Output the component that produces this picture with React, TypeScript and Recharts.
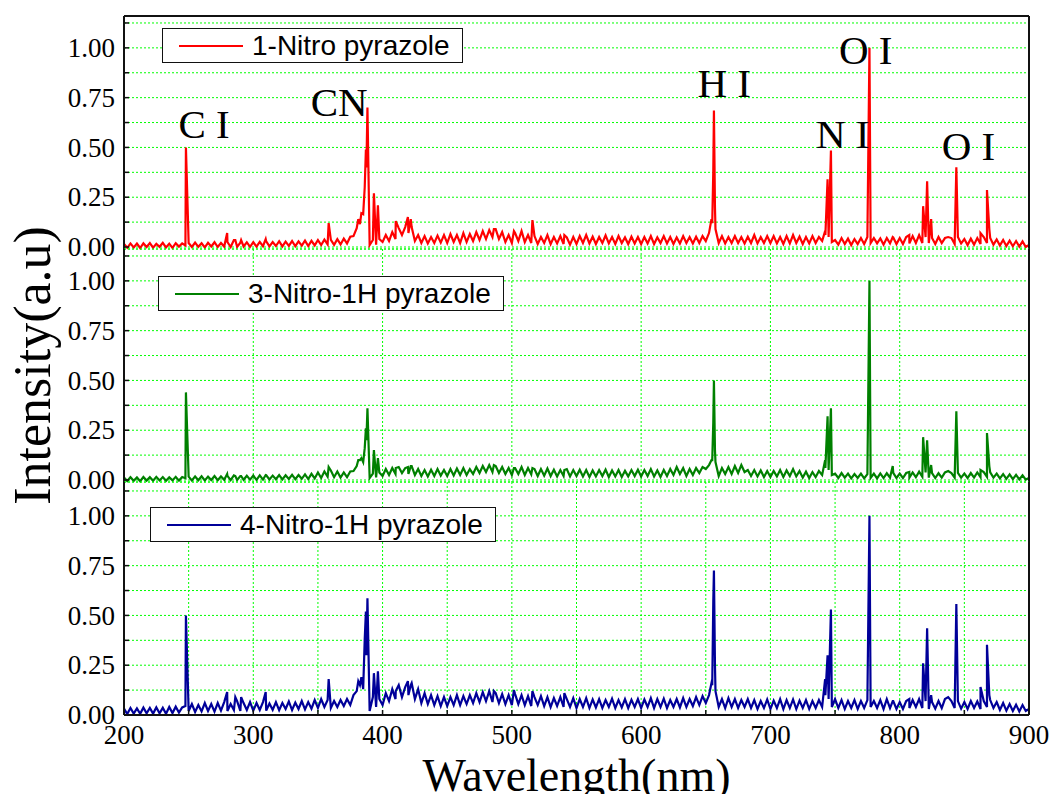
import React from 'react';
import { LineChart, Line, XAxis, YAxis, CartesianGrid, ReferenceDot, Legend } from 'recharts';

// Baseline sampling grid (nm)
const wavelengths = [
  200, 202.5, 205, 207.5, 210, 212.5, 215, 217.5, 220, 222.5, 225, 227.5, 230, 232.5, 235, 237.5, 240, 242.5, 245, 247.5,
  250, 252.5, 255, 257.5, 260, 262.5, 265, 267.5, 270, 272.5, 275, 277.5, 280, 282.5, 285, 287.5, 290, 292.5, 295, 297.5,
  300, 302.5, 305, 307.5, 310, 312.5, 315, 317.5, 320, 322.5, 325, 327.5, 330, 332.5, 335, 337.5, 340, 342.5, 345, 347.5,
  350, 352.5, 355, 357.5, 360, 362.5, 365, 367.5, 370, 372.5, 375, 377.5, 380, 382.5, 385, 387.5, 390, 392.5, 395, 397.5,
  400, 402.5, 405, 407.5, 410, 412.5, 415, 417.5, 420, 422.5, 425, 427.5, 430, 432.5, 435, 437.5, 440, 442.5, 445, 447.5,
  450, 452.5, 455, 457.5, 460, 462.5, 465, 467.5, 470, 472.5, 475, 477.5, 480, 482.5, 485, 487.5, 490, 492.5, 495, 497.5,
  500, 502.5, 505, 507.5, 510, 512.5, 515, 517.5, 520, 522.5, 525, 527.5, 530, 532.5, 535, 537.5, 540, 542.5, 545, 547.5,
  550, 552.5, 555, 557.5, 560, 562.5, 565, 567.5, 570, 572.5, 575, 577.5, 580, 582.5, 585, 587.5, 590, 592.5, 595, 597.5,
  600, 602.5, 605, 607.5, 610, 612.5, 615, 617.5, 620, 622.5, 625, 627.5, 630, 632.5, 635, 637.5, 640, 642.5, 645, 647.5,
  650, 652.5, 655, 657.5, 660, 662.5, 665, 667.5, 670, 672.5, 675, 677.5, 680, 682.5, 685, 687.5, 690, 692.5, 695, 697.5,
  700, 702.5, 705, 707.5, 710, 712.5, 715, 717.5, 720, 722.5, 725, 727.5, 730, 732.5, 735, 737.5, 740, 742.5, 745, 747.5,
  750, 752.5, 755, 757.5, 760, 762.5, 765, 767.5, 770, 772.5, 775, 777.5, 780, 782.5, 785, 787.5, 790, 792.5, 795, 797.5,
  800, 802.5, 805, 807.5, 810, 812.5, 815, 817.5, 820, 822.5, 825, 827.5, 830, 832.5, 835, 837.5, 840, 842.5, 845, 847.5,
  850, 852.5, 855, 857.5, 860, 862.5, 865, 867.5, 870, 872.5, 875, 877.5, 880, 882.5, 885, 887.5, 890, 892.5, 895, 897.5,
  900,
];

const redBase = [
  0.016, -0.004, 0.018, -0.002, 0.017, -0.005, 0.019, 0.0, 0.02, -0.003, 0.016, 0.001, 0.021, -0.002, 0.017, -0.004, 0.019, 0.002, 0.018, 0.008,
  0.02, 0.0, 0.022, 0.001, 0.019, -0.002, 0.021, 0.003, 0.024, 0.0, 0.02, 0.002, 0.025, 0.0, 0.035, 0.001, 0.022, 0.003, 0.024, 0.001,
  0.024, 0.002, 0.026, 0.004, 0.028, 0.003, 0.025, 0.005, 0.029, 0.003, 0.027, 0.006, 0.03, 0.004, 0.028, 0.007, 0.032, 0.005, 0.031, 0.008,
  0.035, 0.01, 0.037, 0.013, 0.036, 0.011, 0.039, 0.013, 0.042, 0.018, 0.052, 0.055, 0.095, 0.115, 0.165, 0.4, 0.01, 0.035, 0.012, 0.04,
  0.025, 0.06, 0.03, 0.075, 0.04, 0.095, 0.06, 0.1, 0.07, 0.1, 0.03, 0.06, 0.02, 0.055, 0.018, 0.05, 0.02, 0.057, 0.022, 0.06,
  0.02, 0.065, 0.025, 0.06, 0.02, 0.07, 0.025, 0.065, 0.03, 0.075, 0.035, 0.08, 0.04, 0.085, 0.05, 0.09, 0.04, 0.075, 0.025, 0.06,
  0.02, 0.07, 0.03, 0.08, 0.025, 0.06, 0.02, 0.055, 0.015, 0.05, 0.02, 0.06, 0.015, 0.05, 0.018, 0.055, 0.015, 0.048, 0.012, 0.05,
  0.015, 0.055, 0.02, 0.06, 0.018, 0.052, 0.015, 0.05, 0.02, 0.058, 0.018, 0.05, 0.015, 0.055, 0.02, 0.048, 0.015, 0.052, 0.018, 0.05,
  0.015, 0.05, 0.018, 0.055, 0.015, 0.048, 0.02, 0.055, 0.018, 0.05, 0.015, 0.048, 0.018, 0.055, 0.02, 0.05, 0.018, 0.052, 0.02, 0.055,
  0.03, 0.07, 0.12, 0.09, 0.02, 0.055, 0.018, 0.05, 0.02, 0.055, 0.02, 0.05, 0.018, 0.052, 0.02, 0.06, 0.018, 0.05, 0.02, 0.055,
  0.02, 0.055, 0.018, 0.05, 0.015, 0.055, 0.018, 0.06, 0.02, 0.052, 0.015, 0.05, 0.018, 0.055, 0.02, 0.05, 0.03, 0.06, 0.05, 0.025,
  0.035, 0.012, 0.045, 0.015, 0.042, 0.01, 0.04, 0.015, 0.045, 0.015, 0.05, 0.02, 0.045, 0.018, 0.043, 0.012, 0.045, 0.018, 0.048, 0.015,
  0.045, 0.015, 0.05, 0.018, 0.055, 0.02, 0.06, 0.02, 0.05, 0.02, 0.045, 0.015, 0.05, 0.02, 0.045, 0.05, 0.045, 0.015, 0.05, 0.018,
  0.04, 0.01, 0.042, 0.012, 0.045, 0.015, 0.05, 0.02, 0.045, 0.012, 0.038, 0.008, 0.035, 0.005, 0.032, 0.004, 0.03, 0.002, 0.028, 0.0,
  0.01,
];

const greenBase = [
  0.012, -0.005, 0.014, -0.004, 0.013, -0.006, 0.015, -0.003, 0.014, -0.004, 0.016, -0.002, 0.015, -0.004, 0.014, -0.002, 0.016, -0.003, 0.015, 0.009,
  0.017, -0.002, 0.018, -0.001, 0.019, -0.002, 0.017, 0.0, 0.02, -0.001, 0.018, 0.001, 0.021, -0.001, 0.023, 0.0, 0.02, 0.001, 0.021, 0.002,
  0.022, 0.001, 0.023, 0.002, 0.024, 0.003, 0.022, 0.004, 0.025, 0.003, 0.024, 0.005, 0.026, 0.004, 0.025, 0.006, 0.028, 0.005, 0.031, 0.008,
  0.038, 0.01, 0.043, 0.017, 0.048, 0.014, 0.043, 0.012, 0.038, 0.014, 0.043, 0.045, 0.07, 0.1, 0.09, 0.2, 0.01, 0.032, 0.013, 0.038,
  0.02, 0.055, 0.025, 0.06, 0.03, 0.065, 0.035, 0.06, 0.03, 0.07, 0.025, 0.055, 0.02, 0.05, 0.018, 0.052, 0.02, 0.055, 0.022, 0.05,
  0.02, 0.055, 0.023, 0.058, 0.025, 0.06, 0.025, 0.055, 0.03, 0.065, 0.035, 0.07, 0.04, 0.075, 0.04, 0.07, 0.035, 0.065, 0.03, 0.06,
  0.025, 0.06, 0.03, 0.065, 0.025, 0.06, 0.028, 0.055, 0.02, 0.055, 0.022, 0.058, 0.02, 0.052, 0.018, 0.05, 0.02, 0.055, 0.018, 0.05,
  0.02, 0.052, 0.018, 0.05, 0.015, 0.048, 0.018, 0.05, 0.02, 0.052, 0.015, 0.048, 0.018, 0.05, 0.015, 0.046, 0.018, 0.05, 0.02, 0.052,
  0.018, 0.05, 0.02, 0.055, 0.018, 0.048, 0.015, 0.05, 0.02, 0.055, 0.025, 0.065, 0.03, 0.06, 0.02, 0.055, 0.025, 0.06, 0.035, 0.065,
  0.055, 0.075, 0.1, 0.09, 0.02, 0.06, 0.03, 0.065, 0.03, 0.07, 0.035, 0.075, 0.04, 0.05, 0.02, 0.05, 0.018, 0.048, 0.015, 0.045,
  0.015, 0.045, 0.018, 0.05, 0.015, 0.048, 0.02, 0.055, 0.018, 0.045, 0.012, 0.042, 0.01, 0.04, 0.015, 0.045, 0.025, 0.06, 0.05, 0.025,
  0.032, 0.01, 0.035, 0.012, 0.032, 0.008, 0.03, 0.01, 0.032, 0.008, 0.03, 0.01, 0.032, 0.008, 0.033, 0.01, 0.034, 0.012, 0.036, 0.01,
  0.032, 0.01, 0.035, 0.012, 0.038, 0.014, 0.042, 0.016, 0.038, 0.012, 0.035, 0.01, 0.034, 0.012, 0.038, 0.045, 0.035, 0.012, 0.036, 0.012,
  0.032, 0.01, 0.035, 0.012, 0.038, 0.014, 0.04, 0.016, 0.038, 0.012, 0.032, 0.008, 0.03, 0.006, 0.028, 0.004, 0.026, 0.003, 0.024, 0.002,
  0.01,
];

const blueBase = [
  0.032, 0.005, 0.035, 0.007, 0.033, 0.006, 0.037, 0.008, 0.035, 0.007, 0.038, 0.009, 0.036, 0.006, 0.04, 0.01, 0.042, 0.012, 0.038, 0.045,
  0.02, 0.055, 0.015, 0.05, 0.018, 0.06, 0.02, 0.055, 0.017, 0.06, 0.022, 0.065, 0.02, 0.055, 0.025, 0.07, 0.02, 0.06, 0.025, 0.065,
  0.022, 0.06, 0.025, 0.065, 0.022, 0.058, 0.026, 0.065, 0.024, 0.06, 0.03, 0.068, 0.025, 0.062, 0.03, 0.07, 0.028, 0.065, 0.032, 0.075,
  0.035, 0.08, 0.04, 0.075, 0.035, 0.07, 0.04, 0.075, 0.045, 0.08, 0.05, 0.1, 0.12, 0.15, 0.13, 0.3, 0.02, 0.09, 0.04, 0.08,
  0.05, 0.11, 0.07, 0.13, 0.08, 0.15, 0.09, 0.14, 0.1, 0.16, 0.08, 0.13, 0.06, 0.11, 0.055, 0.1, 0.05, 0.095, 0.045, 0.09,
  0.045, 0.09, 0.05, 0.1, 0.05, 0.095, 0.055, 0.1, 0.06, 0.11, 0.065, 0.115, 0.07, 0.12, 0.065, 0.11, 0.06, 0.105, 0.055, 0.1,
  0.05, 0.105, 0.055, 0.1, 0.05, 0.095, 0.045, 0.09, 0.05, 0.095, 0.045, 0.09, 0.04, 0.085, 0.045, 0.09, 0.04, 0.08, 0.04, 0.085,
  0.035, 0.08, 0.04, 0.085, 0.035, 0.078, 0.038, 0.08, 0.035, 0.075, 0.04, 0.082, 0.035, 0.075, 0.038, 0.08, 0.035, 0.076, 0.04, 0.08,
  0.035, 0.078, 0.04, 0.085, 0.035, 0.08, 0.04, 0.082, 0.035, 0.075, 0.04, 0.08, 0.038, 0.085, 0.04, 0.08, 0.045, 0.09, 0.05, 0.095,
  0.06, 0.1, 0.15, 0.12, 0.04, 0.08, 0.035, 0.085, 0.04, 0.08, 0.035, 0.075, 0.04, 0.08, 0.035, 0.075, 0.03, 0.07, 0.035, 0.078,
  0.03, 0.072, 0.035, 0.08, 0.03, 0.075, 0.035, 0.078, 0.03, 0.072, 0.035, 0.075, 0.03, 0.07, 0.035, 0.075, 0.04, 0.1, 0.08, 0.04,
  0.08, 0.035, 0.075, 0.03, 0.07, 0.035, 0.075, 0.03, 0.07, 0.035, 0.075, 0.04, 0.07, 0.035, 0.075, 0.03, 0.08, 0.035, 0.07, 0.03,
  0.065, 0.03, 0.07, 0.035, 0.075, 0.04, 0.08, 0.035, 0.07, 0.03, 0.065, 0.032, 0.07, 0.035, 0.08, 0.09, 0.07, 0.035, 0.07, 0.032,
  0.065, 0.03, 0.07, 0.035, 0.068, 0.03, 0.07, 0.04, 0.075, 0.035, 0.065, 0.025, 0.06, 0.022, 0.055, 0.02, 0.052, 0.018, 0.05, 0.02,
  0.03,
];

// Emission lines (nm) and their normalised intensities
const peakWavelengths = [
  247.9, 279.8, 286.1, 290.6, 309.6, 358.3, 381.2, 383.6, 386.2, 387.1, 388.3, 393.3, 396.4,
  410.2, 419.6, 421.8, 486.1, 501.6, 515.9, 540.6, 654.4, 655.8, 656.3, 657.1, 742.3, 744.2,
  746.8, 776.6, 794.6, 807.4, 818.1, 821.2, 824.3, 843.8, 862.5, 867.5, 869.3,
];
const redPeaks = [
  0.5, 0.07, 0.035, 0.035, 0.04, 0.12, 0.14, 0.17, 0.3, 0.49, 0.7, 0.27, 0.21,
  0.13, 0.15, 0.14, 0.09, 0.08, 0.135, 0.06, 0.14, 0.38, 0.685, 0.2, 0.08, 0.34,
  0.485, 1.0, 0.05, 0.06, 0.205, 0.33, 0.14, 0.4, 0.07, 0.286, 0.09,
];
const greenPeaks = [
  0.44, 0.03, 0.02, 0.02, 0.025, 0.065, 0.1, 0.11, 0.16, 0.26, 0.36, 0.15, 0.11,
  0.06, 0.065, 0.07, 0.075, 0.06, 0.06, 0.05, 0.1, 0.29, 0.5, 0.15, 0.1, 0.32,
  0.36, 1.0, 0.07, 0.04, 0.215, 0.2, 0.075, 0.345, 0.05, 0.236, 0.07,
];
const bluePeaks = [
  0.5, 0.115, 0.09, 0.09, 0.115, 0.18, 0.17, 0.19, 0.38, 0.52, 0.586, 0.21, 0.22,
  0.12, 0.17, 0.15, 0.12, 0.125, 0.12, 0.11, 0.16, 0.57, 0.725, 0.25, 0.18, 0.3,
  0.53, 1.0, 0.07, 0.08, 0.26, 0.435, 0.1, 0.557, 0.14, 0.353, 0.1,
];

const seriesNames = ['1-Nitro pyrazole', '3-Nitro-1H pyrazole', '4-Nitro-1H pyrazole'];
const seriesKeys = ['red', 'green', 'blue'];
const seriesColors = ['#ff0000', '#008000', '#000099'];

const yTicks = [0, 0.125, 0.25, 0.375, 0.5, 0.625, 0.75, 0.875, 1, 1.125];
const xMajorTicks = [200, 300, 400, 500, 600, 700, 800, 900];
const xAllTicks = [200, 250, 300, 350, 400, 450, 500, 550, 600, 650, 700, 750, 800, 850, 900];

const annotationLabels = ['C I', 'CN', 'H I', 'N I', 'O I', 'O I'];
const annotationX = [261.9, 366.5, 664.3, 755.9, 773.7, 853.2];
const annotationY = [0.62, 0.731, 0.826, 0.57, 0.994, 0.51];

const table = [
  ...wavelengths.map((wl, i) => ({ wl, red: redBase[i], green: greenBase[i], blue: blueBase[i] })),
  ...peakWavelengths.map((wl, i) => ({ wl, red: redPeaks[i], green: greenPeaks[i], blue: bluePeaks[i] })),
].sort((a, b) => a.wl - b.wl);

const SERIF = '"Liberation Serif", "Times New Roman", serif';
const SANS = '"Liberation Sans", Arial, sans-serif';

const yFmt = (v: number) => (Math.abs(v * 4 - Math.round(v * 4)) < 1e-6 ? v.toFixed(2) : '');
const xFmt = (v: number) => (v % 100 === 0 ? String(v) : '');

const YTick = (p: any) => {
  const label = yFmt(p.payload.value);
  if (!label) return <g />;
  return (
    <text x={p.x} y={p.y} dy="0.34em" textAnchor="end" fontFamily={SERIF} fontSize={27} fill="#000">
      {label}
    </text>
  );
};

const XTick = (p: any) => {
  const label = xFmt(p.payload.value);
  if (!label) return <g />;
  return (
    <text x={p.x} y={p.y} dy="0.71em" textAnchor="middle" fontFamily={SERIF} fontSize={27} fill="#000">
      {label}
    </text>
  );
};

const LegendBox = (props: any) => {
  const item = props.payload && props.payload[0];
  if (!item) return null;
  return (
    <div
      style={{
        display: 'inline-flex',
        alignItems: 'center',
        height: 35,
        boxSizing: 'border-box',
        border: '1.5px solid #111',
        background: '#fff',
        padding: '0 12px 0 16px',
        fontFamily: SANS,
        fontSize: 28,
        color: '#000',
        whiteSpace: 'nowrap',
      }}
    >
      <svg width={64} height={6} style={{ display: 'block' }}>
        <line x1={0} y1={3} x2={64} y2={3} stroke={item.color} strokeWidth={2} />
      </svg>
      <span style={{ marginLeft: 9, lineHeight: '33px' }}>{item.value}</span>
    </div>
  );
};

type PanelProps = {
  index: number;
  top: number;
  height: number;
  marginTop: number;
  domain: [number, number];
  legendLeft: number;
  legendTop: number;
};

function Panel({ index, top, height, marginTop, domain, legendLeft, legendTop }: PanelProps) {
  const isTop = index === 0;
  const isBottom = index === 2;
  const isMiddle = index === 1;
  const axisLine = { stroke: '#111', strokeWidth: 2 };
  const tickLine = { stroke: '#111', strokeWidth: 1.5 };
  return (
    <div style={{ position: 'absolute', left: 0, top }}>
      <LineChart width={1051} height={height} data={table} margin={{ top: marginTop, right: 0, bottom: 0, left: 0 }}>
        <CartesianGrid stroke="#00ff00" strokeDasharray="2 2" strokeWidth={1} />
        {isBottom ? (
          <XAxis
            dataKey="wl"
            type="number"
            domain={[200, 900]}
            ticks={xAllTicks}
            interval={0}
            orientation="bottom"
            height={79}
            tickSize={-5}
            tickMargin={15}
            tick={XTick}
            axisLine={axisLine}
            tickLine={tickLine}
            allowDataOverflow
            label={{ value: 'Wavelength(nm)', position: 'insideBottom', offset: 3, fontSize: 46, fontFamily: SERIF, fill: '#000' }}
          />
        ) : isTop ? (
          <XAxis
            dataKey="wl"
            type="number"
            domain={[200, 900]}
            ticks={xMajorTicks}
            interval={0}
            orientation="top"
            height={1}
            tickSize={-6}
            tick={false}
            axisLine={axisLine}
            tickLine={tickLine}
            allowDataOverflow
          />
        ) : (
          <XAxis dataKey="wl" type="number" domain={[200, 900]} ticks={xMajorTicks} interval={0} hide allowDataOverflow />
        )}
        <YAxis
          type="number"
          domain={domain}
          ticks={yTicks}
          interval={0}
          width={124}
          tickSize={-5}
          tickMargin={14}
          tick={YTick}
          axisLine={axisLine}
          tickLine={tickLine}
          label={
            isMiddle
              ? {
                  value: 'Intensity(a.u)',
                  angle: -90,
                  position: 'insideLeft',
                  offset: 32,
                  fontSize: 52,
                  fontFamily: SERIF,
                  fill: '#000',
                  style: { textAnchor: 'middle' },
                }
              : undefined
          }
        />
        <YAxis
          yAxisId="r"
          orientation="right"
          type="number"
          domain={domain}
          ticks={yTicks}
          interval={0}
          width={22}
          tickSize={-5}
          tick={false}
          axisLine={axisLine}
          tickLine={tickLine}
        />
        <Line
          type="linear"
          dataKey={seriesKeys[index]}
          name={seriesNames[index]}
          stroke={seriesColors[index]}
          strokeWidth={2.2}
          dot={false}
          activeDot={false}
          isAnimationActive={false}
        />
        <Legend
          layout="horizontal"
          verticalAlign="middle"
          align="center"
          content={LegendBox}
          wrapperStyle={{ left: legendLeft, top: legendTop, width: 'auto' }}
        />
        {isTop &&
          annotationLabels.map((lab, i) => (
            <ReferenceDot
              key={i}
              x={annotationX[i]}
              y={annotationY[i]}
              r={0}
              fill="none"
              stroke="none"
              label={{ value: lab, position: 'center', fontSize: 41, fontFamily: SERIF, fill: '#000' }}
            />
          ))}
      </LineChart>
    </div>
  );
}

export default function App() {
  return (
    <div style={{ position: 'absolute', left: 0, top: 0, width: 1051, height: 794, background: '#fff' }}>
      <style>{`.recharts-surface { overflow: visible; }`}</style>
      <Panel index={0} top={0} height={249} marginTop={15} domain={[-0.01, 1.16]} legendLeft={162} legendTop={28} />
      <Panel index={1} top={249} height={233} marginTop={0} domain={[-0.01, 1.16]} legendLeft={158} legendTop={27} />
      <Panel index={2} top={482} height={312} marginTop={0} domain={[0, 1.17]} legendLeft={150} legendTop={25} />
    </div>
  );
}
